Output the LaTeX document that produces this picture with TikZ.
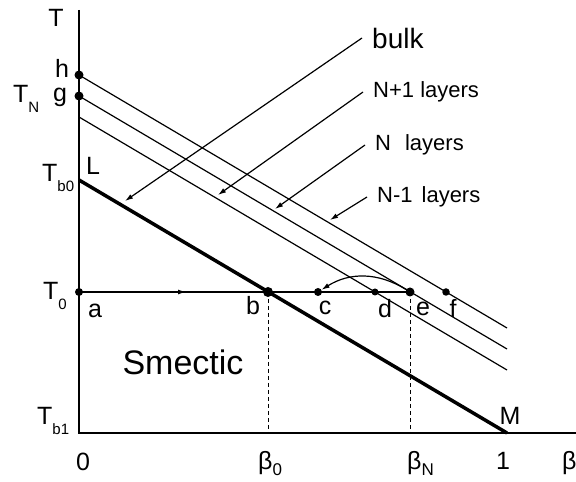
\documentclass[tikz,border=0pt]{standalone}
\usepackage{fontspec}
\setmainfont{Liberation Sans}
\usetikzlibrary{arrows.meta}

\newcommand{\lsub}[1]{\raisebox{-10pt}{\fontsize{15}{15}\selectfont #1}}
\newcommand{\bsub}[1]{\raisebox{-6pt}{\fontsize{17}{17}\selectfont #1}}

\begin{document}
\begin{tikzpicture}[x=1pt,y=1pt,
  lbl/.style={font=\fontsize{25}{25}\selectfont, inner sep=0pt},
  note/.style={font=\fontsize{22}{22}\selectfont, inner ysep=0pt, inner xsep=10pt, anchor=west},
  dot/.style={circle, fill, inner sep=0pt, minimum size=#1},
  dot/.default=8pt,
  tip/.style={-{Latex[length=8pt,width=5pt]}},
  thinline/.style={line width=1.2pt},
  bulkline/.style={line width=3.5pt}]

  \useasboundingbox (0,0) rectangle (576,482);

  % axes
  \coordinate (O) at (79,49);
  \coordinate (ytop) at (79,472);
  \coordinate (xend) at (576,49);
  \draw[line width=1.3pt] (ytop) -- (O) -- (xend);

  % points on the lines
  \node[dot=9pt] (h) at (79,407) {};
  \node[dot=9pt] (g) at (79,386) {};
  \coordinate (s3) at (79,365);
  \coordinate (lpt) at (79,302);
  \coordinate (hend) at (507,154);
  \coordinate (gend) at (507,133);
  \coordinate (s3end) at (507,112);
  \coordinate (mpt) at (507,49);

  \node[dot] (a) at (79,190) {};
  \node[dot=10pt] (b) at (268,190) {};
  \node[dot] (c) at (318,190) {};
  \node[dot=7pt] (d) at (375,190) {};
  \node[dot=9pt] (e) at (410,190) {};
  \node[dot=7.5pt] (f) at (446,190) {};

  % transition lines
  \draw[thinline] (h.center) -- (hend);
  \draw[thinline] (g.center) -- (gend);
  \draw[thinline] (s3) -- (s3end);
  \draw[bulkline] (lpt) -- (mpt);

  % path at T_0
  \coordinate (amid) at (186,190);
  \draw[thinline] (a.center) -- (e.center);
  \draw[thinline, tip] (a.center) -- (amid);
  \draw[thinline, tip] (e) to[bend right=32] (c);

  \draw[semithick, dash pattern=on 4pt off 3pt] (b.center) -- (b |- O);
  \draw[semithick, dash pattern=on 4pt off 3pt] (e.center) -- (e |- O);

  % line labels
  \node[note, font=\fontsize{28}{28}\selectfont] (bulk) at (362,444) {bulk};
  \node[note] (np1) at (363,390) {N+1 layers};
  \node[note] (n0) at (365,337) {N\hspace{14pt}layers};
  \node[note] (nm1) at (367,285) {N-1\hspace{9pt}layers};

  \coordinate (bulkto) at (125,281);
  \coordinate (np1to) at (218,287);
  \coordinate (n0to) at (275,273);
  \coordinate (nm1to) at (330,262);

  \draw[thinline, tip] (bulk.west) -- (bulkto);
  \draw[thinline, tip] (np1.west) -- (np1to);
  \draw[thinline, tip] (n0.west) -- (n0to);
  \draw[thinline, tip] (nm1.west) -- (nm1to);

  % axis labels
  \node[lbl, anchor=base] (tlab) at (56,455) {T};
  \node[lbl, anchor=base] (hlab) at (62,404) {h};
  \node[lbl, anchor=base west] (tn) at (13,379) {T\lsub{N}};
  \node[lbl, anchor=base] (glab) at (60,380) {g};
  \node[lbl, anchor=base west] (tb0) at (42,300) {T\lsub{b0}};
  \node[lbl, anchor=base] (llab) at (93,307) {L};
  \node[lbl, anchor=base west] (t0) at (43,182) {T\lsub{0}};
  \node[lbl, anchor=base west] (tb1) at (37,57) {T\lsub{b1}};

  \node[lbl, anchor=base] (alab) at (95,164) {a};
  \node[lbl, anchor=base] (blab) at (253,167) {b};
  \node[lbl, anchor=base] (clab) at (325,167) {c};
  \node[lbl, anchor=base] (dlab) at (385,164) {d};
  \node[lbl, anchor=base] (elab) at (423,166) {e};
  \node[lbl, anchor=base] (flab) at (453,164) {f};
  \node[lbl, anchor=base] (mlab) at (510,57) {M};

  \node[font=\fontsize{34}{34}\selectfont, anchor=base] (smectic) at (183,107) {Smectic};

  \node[lbl, anchor=base] (zero) at (83,11) {0};
  \node[lbl, anchor=base west] (beta0) at (258,12) {β\bsub{0}};
  \node[lbl, anchor=base west] (betan) at (407,12) {β\bsub{N}};
  \node[lbl, anchor=base] (one) at (503,12) {1};
  \node[lbl, anchor=base west] (beta) at (562,12) {β};

\end{tikzpicture}
\end{document}
